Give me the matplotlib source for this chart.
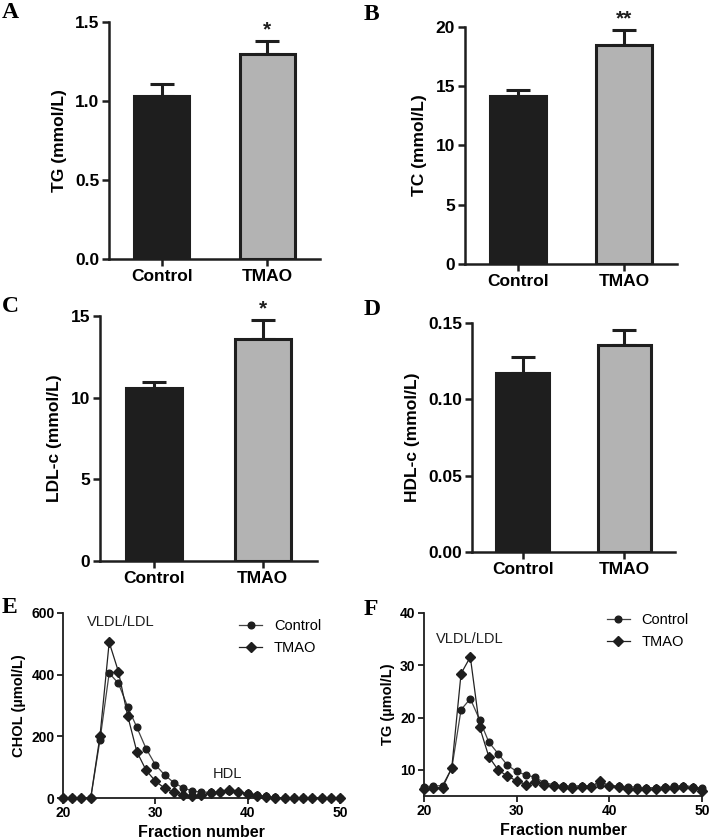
import numpy as np
import matplotlib
matplotlib.use('Agg')
import matplotlib.pyplot as plt

plt.rcParams['font.family'] = ['Liberation Sans', 'DejaVu Sans']

# bar panels A-D: mean and upper error
groups = ['Control', 'TMAO']
tg_mean = [1.03, 1.30]
tg_err = [0.075, 0.08]
tc_mean = [14.15, 18.5]
tc_err = [0.5, 1.28]
ldl_mean = [10.6, 13.57]
ldl_err = [0.35, 1.18]
hdl_mean = [0.117, 0.1356]
hdl_err = [0.011, 0.0095]

# FPLC profiles E-F
fraction = list(range(20, 51))
chol_control = [0, 0, 0, 0, 188, 405, 372, 296, 229, 160, 108, 75, 50, 33, 23, 19,
                19, 20, 22, 20, 15, 10, 5, 2, 0, 0, 0, 0, 0, 0, 0]
chol_tmao = [0, 0, 0, 0, 200, 505, 410, 267, 150, 90, 55, 32, 18, 10, 8, 10,
             15, 20, 25, 20, 12, 6, 3, 0, 0, 0, 0, 0, 0, 0, 0]
tg_control = [6.8, 6.9, 7.0, 10.3, 21.5, 23.6, 19.6, 15.3, 13.1, 10.9, 9.7, 9.0, 8.6,
              7.5, 7.2, 7.0, 6.9, 7.0, 7.0, 7.2, 7.0, 6.9, 6.8, 6.7, 6.6, 6.6, 6.8,
              6.9, 7.0, 6.8, 6.5]
tg_tmao = [6.4, 6.6, 6.6, 10.4, 28.4, 31.6, 18.2, 12.5, 10.0, 8.8, 7.9, 7.2, 7.6,
           7.2, 6.9, 6.7, 6.6, 6.8, 6.7, 7.9, 6.9, 6.8, 6.3, 6.3, 6.3, 6.3, 6.6,
           6.5, 6.7, 6.6, 6.0]

dark = '#1e1e1e'
fig = plt.figure(figsize=(7.09, 8.38), dpi=100)


def bar_panel(rect, means, errs, ylim, yticks, yfmt, ylabel, stars):
    ax = fig.add_axes(rect)
    x = np.arange(len(groups))
    ax.bar(x, means, width=0.52, color=[dark, '#b3b3b3'], edgecolor=dark, linewidth=2.2, zorder=2)
    ax.errorbar(x, means, yerr=[[0, 0], errs], fmt='none', ecolor=dark, elinewidth=2.2,
                capsize=8.5, capthick=2.2, zorder=1)
    for i in range(len(groups)):
        if stars[i]:
            ax.annotate(stars[i], (x[i], means[i] + errs[i]), xytext=(0, 1), textcoords='offset points',
                        ha='center', va='bottom', fontsize=15, fontweight='bold', color=dark)
    ax.set_xlim(-0.5, 1.5)
    ax.set_ylim(*ylim)
    ax.set_xticks(x)
    ax.set_xticklabels(groups)
    ax.set_yticks(yticks)
    ax.set_yticklabels([yfmt.format(v) for v in yticks])
    ax.set_ylabel(ylabel, fontsize=12.5, fontweight='bold', labelpad=6)
    for s in ['top', 'right']:
        ax.spines[s].set_visible(False)
    for s in ['left', 'bottom']:
        ax.spines[s].set_linewidth(1.8)
        ax.spines[s].set_color(dark)
    ax.tick_params(width=1.8, length=5, color=dark, labelsize=12.5, pad=2)
    for lab in ax.get_xticklabels() + ax.get_yticklabels():
        lab.set_fontweight('bold')
    return ax


bar_panel([0.1537, 0.6909, 0.2976, 0.2828], tg_mean, tg_err, (0, 1.5), [0, 0.5, 1.0, 1.5],
          '{:.1f}', 'TG (mmol/L)', ['', '*'])
bar_panel([0.6558, 0.6850, 0.2991, 0.2828], tc_mean, tc_err, (0, 20), [0, 5, 10, 15, 20],
          '{:.0f}', 'TC (mmol/L)', ['', '**'])
bar_panel([0.1410, 0.3305, 0.3061, 0.2924], ldl_mean, ldl_err, (0, 15), [0, 5, 10, 15],
          '{:.0f}', 'LDL-c (mmol/L)', ['', '*'])
bar_panel([0.6657, 0.3413, 0.2863, 0.2733], hdl_mean, hdl_err, (0, 0.15), [0, 0.05, 0.10, 0.15],
          '{:.2f}', 'HDL-c (mmol/L)', ['', ''])


def profile_panel(rect, yc, yt, ylim, yticks, ylabel, notes, leg_anchor):
    ax = fig.add_axes(rect)
    ax.plot(fraction, yc, color='#444444', lw=0.9, marker='o', ms=4.8, mfc=dark, mec=dark,
            label='Control', clip_on=False, zorder=3)
    ax.plot(fraction, yt, color='#222222', lw=0.9, marker='D', ms=4.8, mfc=dark, mec=dark,
            label='TMAO', clip_on=False, zorder=3)
    ax.set_xlim(20, 50)
    ax.set_ylim(*ylim)
    ax.set_xticks([20, 30, 40, 50])
    ax.set_yticks(yticks)
    ax.set_xlabel('Fraction number', fontsize=11.5, fontweight='bold', labelpad=3)
    ax.set_ylabel(ylabel, fontsize=10.5, fontweight='bold', labelpad=4)
    for s in ['top', 'right']:
        ax.spines[s].set_visible(False)
    for s in ['left', 'bottom']:
        ax.spines[s].set_linewidth(1.3)
        ax.spines[s].set_color(dark)
    ax.tick_params(width=1.3, length=4, color=dark, labelsize=10, pad=2)
    for lab in ax.get_xticklabels() + ax.get_yticklabels():
        lab.set_fontweight('bold')
    for txt, xy in notes:
        ax.text(xy[0], xy[1], txt, fontsize=10.5, ha='center', va='center', color=dark)
    ax.legend(loc='upper right', bbox_to_anchor=leg_anchor, frameon=False, fontsize=10.5,
              handlelength=1.6, handletextpad=0.8, labelspacing=0.55)
    return ax


profile_panel([0.0889, 0.0477, 0.3906, 0.2208], chol_control, chol_tmao, (0, 600), [0, 200, 400, 600],
              'CHOL (µmol/L)', [('VLDL/LDL', (26.2, 571)), ('HDL', (37.8, 78))], (0.98, 1.04))
profile_panel([0.5980, 0.0501, 0.3921, 0.2184], tg_control, tg_tmao, (5, 40), [10, 20, 30, 40],
              'TG (µmol/L)', [('VLDL/LDL', (24.9, 35.0))], (1.0, 1.07))

# panel letters
for letter, (px, py) in zip('ABCDEF', [(2, 2), (364, 4), (2, 296), (364, 299), (2, 597), (364, 599)]):
    fig.text(px / 709, 1 - py / 838, letter, fontsize=17, fontweight='bold',
             family='Liberation Serif', ha='left', va='top')

fig.savefig('out.png', dpi=100)
